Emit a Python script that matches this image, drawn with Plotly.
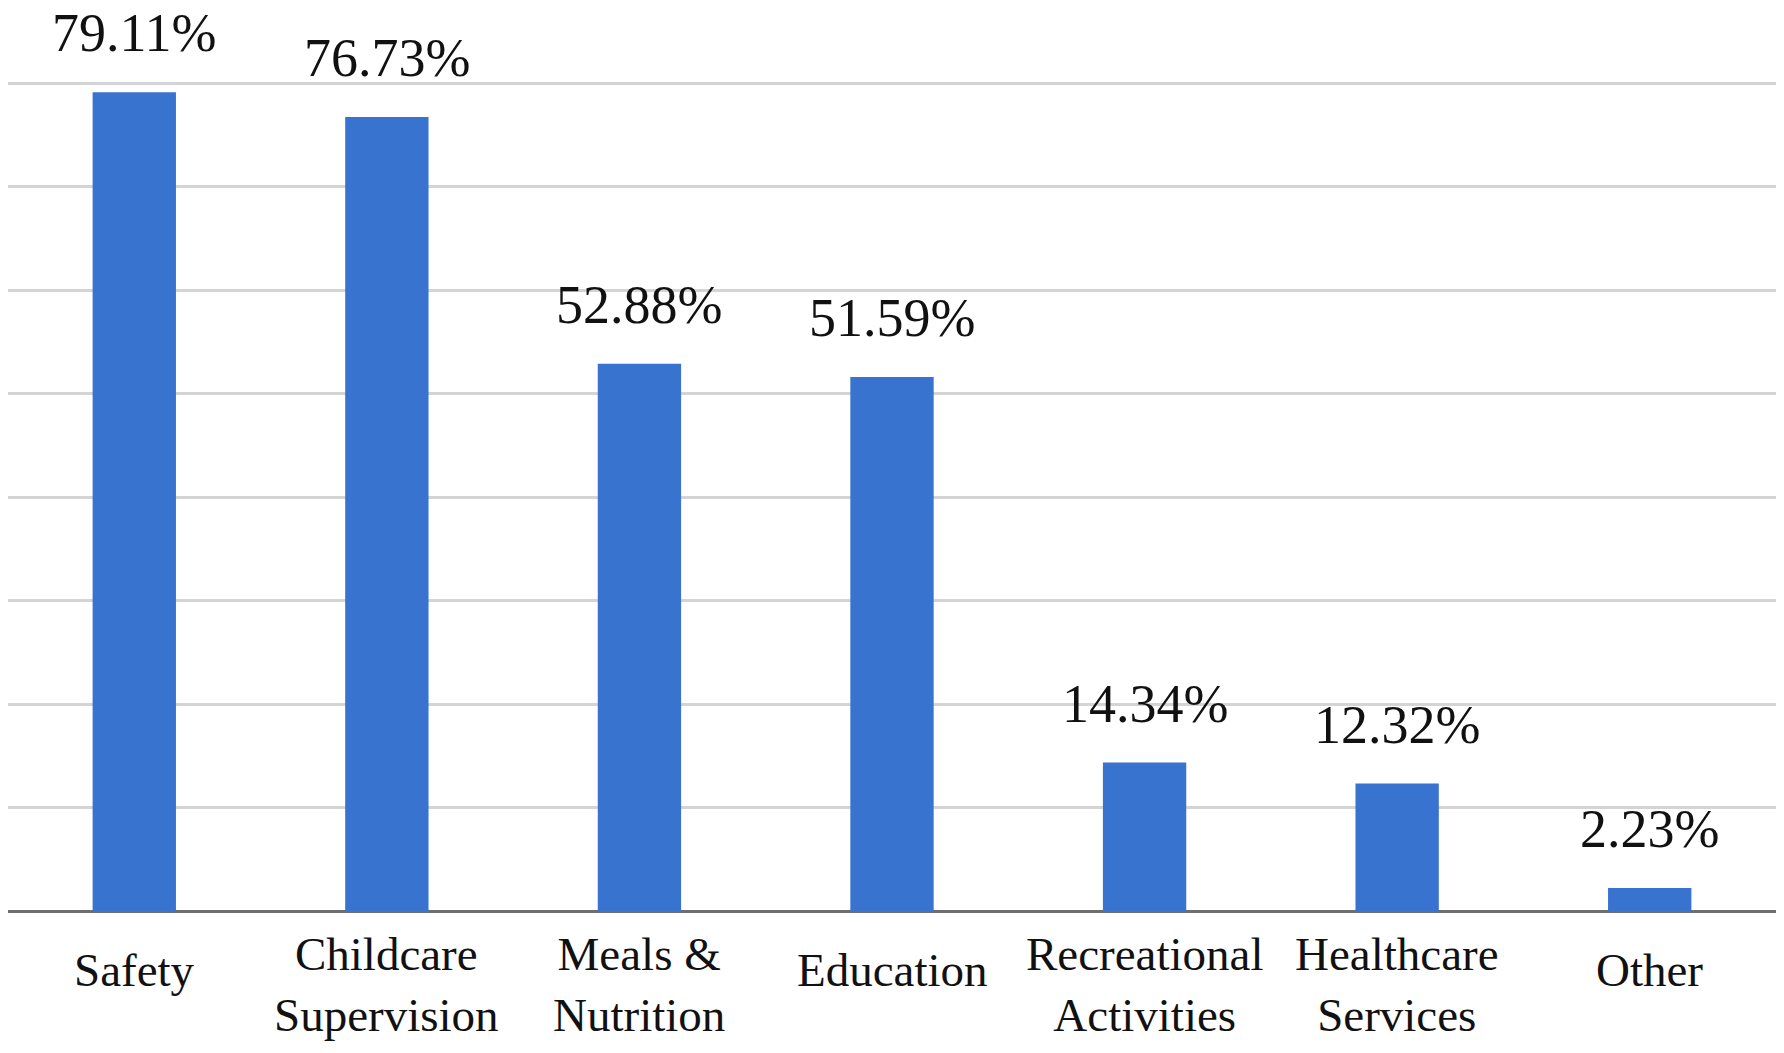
import plotly.graph_objects as go

categories = ["Safety", "Childcare<br>Supervision", "Meals &amp;<br>Nutrition", "Education",
              "Recreational<br>Activities", "Healthcare<br>Services", "Other"]
values = [79.11, 76.73, 52.88, 51.59, 14.34, 12.32, 2.23]
value_labels = ["79.11%", "76.73%", "52.88%", "51.59%", "14.34%", "12.32%", "2.23%"]
y_ticks = [0, 10, 20, 30, 40, 50, 60, 70, 80]

FONT = "Liberation Serif, Times New Roman, serif"

fig = go.Figure()
fig.add_trace(go.Bar(
    x=categories, y=values,
    marker=dict(color="#3873D0", line=dict(width=0)),
    width=0.33,
    hoverinfo="skip",
))

annotations = []
for c, v, t in zip(categories, values, value_labels):
    annotations.append(dict(
        x=c, y=v, xref="x", yref="y", text=t, showarrow=False,
        yanchor="middle", yshift=59,
        font=dict(family=FONT, size=54, color="#111111"),
    ))
    annotations.append(dict(
        x=c, y=0, xref="x", yref="y", text=c, showarrow=False,
        yanchor="middle", yshift=-73 if "<br>" in c else -59,
        font=dict(family=FONT, size=47, color="#111111"),
    ))

fig.update_layout(
    width=1784, height=1053,
    margin=dict(l=8, r=8, t=80, b=142),
    paper_bgcolor="white", plot_bgcolor="white",
    showlegend=False,
    bargap=0.67,
    annotations=annotations,
    xaxis=dict(
        showticklabels=False, showgrid=False, zeroline=False,
        showline=False, ticks="", fixedrange=True,
    ),
    yaxis=dict(
        range=[0, 80.3], tickvals=y_ticks, showticklabels=False,
        showgrid=True, gridcolor="#D4D4D4", gridwidth=3,
        zeroline=True, zerolinecolor="#6E6E6E", zerolinewidth=3,
        showline=False, ticks="", fixedrange=True,
    ),
)

fig.write_html("out.html", config={"displayModeBar": False, "staticPlot": True},
               post_script="document.body.style.margin='0px';")
